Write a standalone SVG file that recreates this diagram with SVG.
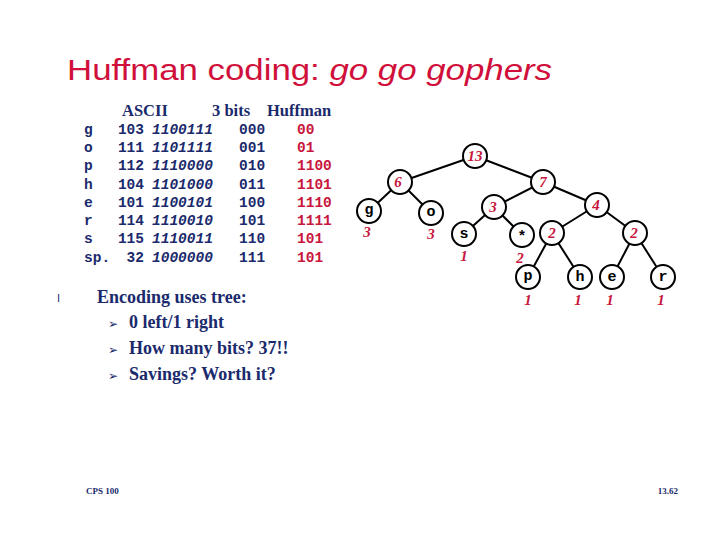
<svg xmlns="http://www.w3.org/2000/svg" width="720" height="540" viewBox="0 0 720 540">
<style>
.t{font-family:"Liberation Mono",monospace;font-size:14.5px;font-weight:bold;fill:#1a2a6c}
.i{font-style:italic}
.r{fill:#c8163c}
.h{font-family:"Liberation Serif",serif;font-weight:bold;font-size:16.5px;fill:#1a2a6c}
.b{font-family:"Liberation Serif",serif;font-weight:bold;font-size:18px;fill:#1a2a6c}
.n circle{fill:#fff;stroke:#000;stroke-width:2}
.lt{font-family:"Liberation Mono",monospace;font-size:15px;font-weight:bold;text-anchor:middle;fill:#000}
.iv{fill:#c8163c;font-family:"Liberation Serif",serif;font-size:15px;font-style:italic;font-weight:bold;text-anchor:middle}
.w{font-family:"Liberation Serif",serif;font-style:italic;font-weight:bold;font-size:15px;fill:#c8163c;text-anchor:middle}
</style>
<rect width="720" height="540" fill="#fff"/>
<text x="67" y="80" font-family="Liberation Sans,sans-serif" font-size="30" fill="#d0103a" textLength="485" lengthAdjust="spacingAndGlyphs">Huffman coding: <tspan font-style="italic">go go gophers</tspan></text>
<text class="h" x="122" y="116">ASCII</text><text class="h" x="212" y="116">3 bits</text><text class="h" x="267" y="116">Huffman</text>
<g class="t">
<text x="84" y="134">g</text><text x="84" y="152">o</text><text x="84" y="170">p</text><text x="84" y="189">h</text><text x="84" y="207">e</text><text x="84" y="225">r</text><text x="84" y="243">s</text><text x="84" y="262">sp.</text>
<g text-anchor="end"><text x="144" y="134">103</text><text x="144" y="152">111</text><text x="144" y="170">112</text><text x="144" y="189">104</text><text x="144" y="207">101</text><text x="144" y="225">114</text><text x="144" y="243">115</text><text x="144" y="262">32</text></g>
<g class="i"><text x="152" y="134">1100111</text><text x="152" y="152">1101111</text><text x="152" y="170">1110000</text><text x="152" y="189">1101000</text><text x="152" y="207">1100101</text><text x="152" y="225">1110010</text><text x="152" y="243">1110011</text><text x="152" y="262">1000000</text></g>
<text x="239" y="134">000</text><text x="239" y="152">001</text><text x="239" y="170">010</text><text x="239" y="189">011</text><text x="239" y="207">100</text><text x="239" y="225">101</text><text x="239" y="243">110</text><text x="239" y="262">111</text>
<g class="r"><text x="297" y="134">00</text><text x="297" y="152">01</text><text x="297" y="170">1100</text><text x="297" y="189">1101</text><text x="297" y="207">1110</text><text x="297" y="225">1111</text><text x="297" y="243">101</text><text x="297" y="262">101</text></g>
</g>
<text x="57" y="302" font-family="DejaVu Sans,sans-serif" font-size="11" fill="#1a2a6c">l</text>
<text class="b" x="97" y="303">Encoding uses tree:</text>
<g font-family="DejaVu Sans,sans-serif" font-size="12" fill="#1a2a6c"><text x="108" y="328">➢</text><text x="108" y="354">➢</text><text x="108" y="380">➢</text></g>
<text class="b" x="129" y="328">0 left/1 right</text>
<text class="b" x="129" y="354">How many bits? 37!!</text>
<text class="b" x="129" y="380">Savings? Worth it?</text>
<text x="86" y="494" font-family="Liberation Serif,serif" font-weight="bold" font-size="9" fill="#1a2a6c">CPS 100</text>
<text x="678" y="494" text-anchor="end" font-family="Liberation Serif,serif" font-weight="bold" font-size="9" fill="#1a2a6c">13.62</text>
<g id="edges" stroke="#000" stroke-width="2">
<line x1="475" y1="156" x2="400" y2="182"/><line x1="475" y1="156" x2="543" y2="182"/>
<line x1="400" y1="182" x2="369" y2="211"/><line x1="400" y1="182" x2="431" y2="213"/>
<line x1="543" y1="182" x2="494" y2="207"/><line x1="543" y1="182" x2="597" y2="205"/>
<line x1="494" y1="207" x2="464" y2="234"/><line x1="494" y1="207" x2="522" y2="235"/>
<line x1="597" y1="205" x2="552" y2="233"/><line x1="597" y1="205" x2="635" y2="233"/>
<line x1="552" y1="233" x2="528" y2="277"/><line x1="552" y1="233" x2="580" y2="277"/>
<line x1="635" y1="233" x2="612" y2="277"/><line x1="635" y1="233" x2="663" y2="277"/>
</g>
<g class="n">
<g id="n13"><circle cx="475" cy="156" r="12"/><text class="iv" x="475" y="161">13</text></g>
<g id="n6"><circle cx="400" cy="182" r="12"/><text class="iv" x="398" y="187">6</text></g>
<g id="n7"><circle cx="543" cy="182" r="12"/><text class="iv" x="543" y="187">7</text></g>
<g id="ng"><circle cx="369" cy="211" r="12"/><text class="lt" x="369" y="214">g</text></g>
<g id="no"><circle cx="431" cy="213" r="12"/><text class="lt" x="431" y="216">o</text></g>
<g id="n3"><circle cx="494" cy="207" r="12"/><text class="iv" x="493" y="212">3</text></g>
<g id="n4"><circle cx="597" cy="205" r="12"/><text class="iv" x="596" y="210">4</text></g>
<g id="ns"><circle cx="464" cy="234" r="12"/><text class="lt" x="464" y="238">s</text></g>
<g id="nstar"><circle cx="522" cy="235" r="12"/><text class="lt" x="522" y="241">*</text></g>
<g id="n2a"><circle cx="552" cy="233" r="12"/><text class="iv" x="552" y="238">2</text></g>
<g id="n2b"><circle cx="635" cy="233" r="12"/><text class="iv" x="634" y="238">2</text></g>
<g id="np"><circle cx="528" cy="277" r="12"/><text class="lt" x="528" y="280">p</text></g>
<g id="nh"><circle cx="580" cy="277" r="12"/><text class="lt" x="580" y="281">h</text></g>
<g id="ne"><circle cx="612" cy="277" r="12"/><text class="lt" x="612" y="281">e</text></g>
<g id="nr"><circle cx="663" cy="277" r="12"/><text class="lt" x="663" y="281">r</text></g>
</g>
<g class="w"><text x="367" y="237">3</text><text x="431" y="239">3</text><text x="464" y="261">1</text><text x="520" y="263">2</text><text x="528" y="305">1</text><text x="578" y="305">1</text><text x="610" y="305">1</text><text x="661" y="305">1</text></g>
</svg>
